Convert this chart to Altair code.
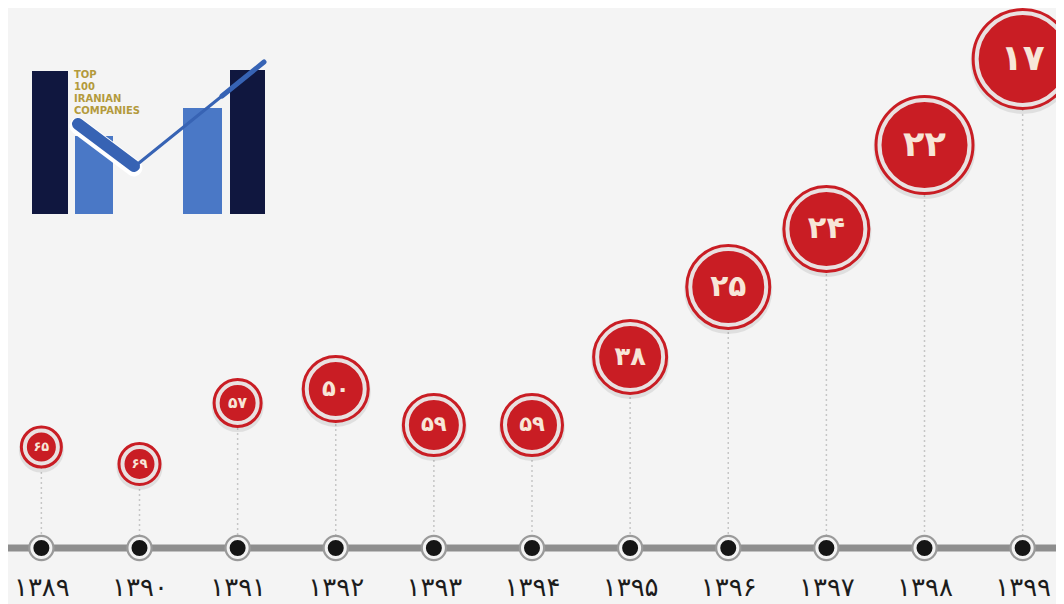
import altair as alt
import pandas as pd

# ---- data ----
years = [1389, 1390, 1391, 1392, 1393, 1394, 1395, 1396, 1397, 1398, 1399]
ranks = [65, 69, 57, 50, 59, 59, 38, 25, 24, 22, 17]
BASE_RANK = 100  # timeline = "top 100"

FA = str.maketrans("0123456789", "۰۱۲۳۴۵۶۷۸۹")
year_labels = [str(y).translate(FA) for y in years]
rank_labels = [str(r).translate(FA) for r in ranks]

df = pd.DataFrame({
    "year": years,
    "rank": ranks,
    "year_fa": year_labels,
    "rank_fa": rank_labels,
    "base": [BASE_RANK] * len(years),
})

# ---- styling / scales ----
W, H = 1048, 552
RED = "#c91d24"
RING = "#e9e1e1"
BG = "#f4f4f4"

y_scale = alt.Scale(
    domain=[17, 22, 24, 25, 38, 50, 57, 59, 65, 69, 100],
    range=[51, 137, 221, 279, 349, 381, 395, 417, 439, 456, 540],
    zero=False, nice=False,
)
radii = [16.5, 17, 20, 29, 27, 27, 33, 38, 39, 45, 46]
size_scale = alt.Scale(domain=years, range=[4 * r * r for r in radii], zero=False, nice=False)
font_scale = alt.Scale(domain=years, range=[round(r * 0.78, 1) for r in radii], zero=False, nice=False)

X = alt.X(
    "year_fa:N",
    sort=year_labels,
    scale=alt.Scale(type="point", domain=year_labels, padding=0.34),
    axis=alt.Axis(
        title=None, domain=False, ticks=False, labelAngle=0, labelFontSize=26,
        labelFont="DejaVu Sans", labelFontWeight="normal", labelColor="#1c1c1c",
        labelPadding=14, grid=False,
    ),
)
Y_rank = alt.Y("rank:Q", scale=y_scale, axis=None)
Y_base = alt.Y("base:Q", scale=y_scale, axis=None)

base = alt.Chart(df)

stems = base.mark_rule(color="#c6c6c6", strokeDash=[2, 3], strokeWidth=1.5).encode(
    x=X, y=Y_rank, y2=alt.Y2("base:Q")
)

timeline = alt.Chart(alt.Data(values=[{"v": BASE_RANK}])).mark_rule(
    color="#8e8e8e", strokeWidth=7
).encode(y=alt.Y("v:Q", scale=y_scale, axis=None))

node_outer = base.mark_point(shape="circle", filled=True, fill="#9a9a9a", strokeWidth=0, opacity=1).encode(
    x=X, y=Y_base, size=alt.value(700)
)
node_inner = base.mark_point(shape="circle", filled=True, fill="#151515", stroke="#f3f3f3",
                             strokeWidth=3, opacity=1).encode(
    x=X, y=Y_base, size=alt.value(361)
)

SIZE = alt.Size("year:Q", scale=size_scale, legend=None)

shadow = base.mark_point(shape="circle", filled=True, fill="#000000", stroke="#000000",
                         strokeWidth=12, opacity=0.08, yOffset=3).encode(x=X, y=Y_rank, size=SIZE)
bubble_a = base.mark_point(shape="circle", filled=True, fill=RED, stroke=RED,
                           strokeWidth=10, opacity=1).encode(x=X, y=Y_rank, size=SIZE)
bubble_b = base.mark_point(shape="circle", filled=True, fill=RED, stroke=RING,
                           strokeWidth=4, opacity=1).encode(x=X, y=Y_rank, size=SIZE)

labels = base.mark_text(font="DejaVu Sans", fontWeight="bold", color="#f7e6d8",
                        align="center", baseline="middle").encode(
    x=X, y=Y_rank, text="rank_fa:N",
    size=alt.Size("year:Q", scale=font_scale, legend=None),
)

# ---- decorative logo (top-left) ----
one = alt.Data(values=[{"k": 1}])
NAVY = "#10173f"
LBLUE = "#4a78c6"
SBLUE = "#3763b4"

def rect(x1, x2, y1, y2, color):
    return alt.Chart(one).mark_rect(color=color, opacity=1).encode(
        x=alt.value(x1), x2=alt.value(x2), y=alt.value(y1), y2=alt.value(y2))

def seg(x1, y1, x2, y2, color, w):
    return alt.Chart(one).mark_rule(color=color, strokeWidth=w, strokeCap="round").encode(
        x=alt.value(x1), x2=alt.value(x2), y=alt.value(y1), y2=alt.value(y2))

def txt(x, y, s):
    return alt.Chart(one).mark_text(text=s, font="DejaVu Sans", fontWeight="bold", fontSize=10,
                                    color="#b39a3c", align="left", baseline="middle").encode(
        x=alt.value(x), y=alt.value(y))

logo = [
    rect(24, 60, 63, 206, NAVY),
    rect(67, 105, 128, 206, LBLUE),
    rect(175, 214, 100, 206, LBLUE),
    rect(222, 257, 62, 206, NAVY),
    seg(70, 118, 126, 160, "#ffffff", 17),
    seg(70, 116, 126, 158, SBLUE, 12),
    seg(126, 159, 214, 88, SBLUE, 3),
    seg(214, 88, 256, 54, SBLUE, 5),
    txt(66, 67, "TOP"),
    txt(66, 79, "100"),
    txt(66, 91, "IRANIAN"),
    txt(66, 103, "COMPANIES"),
]

chart = alt.layer(
    stems, timeline, node_outer, node_inner, shadow, bubble_a, bubble_b, labels, *logo
).resolve_scale(size="independent").properties(
    width=W, height=H,
    autosize=alt.AutoSizeParams(type="none"),
    padding={"left": 0, "top": 0, "right": 0, "bottom": 44},
    background=BG,
).configure_view(stroke=None)

chart.save("out.html", embed_options={"renderer": "svg", "actions": False})
